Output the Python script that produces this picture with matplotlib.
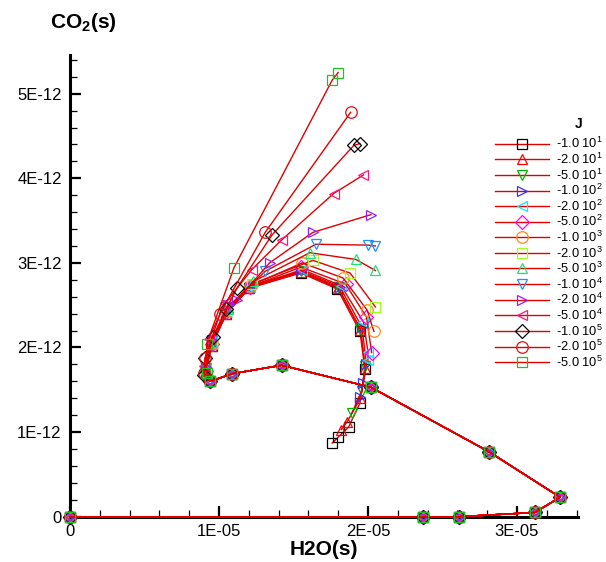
import matplotlib
matplotlib.use("Agg")
import matplotlib.pyplot as plt
from matplotlib.lines import Line2D
from matplotlib.ticker import FixedLocator, MultipleLocator

plt.rcParams['font.family'] = ['Liberation Sans', 'DejaVu Sans']
plt.rcParams['mathtext.fontset'] = 'custom'
plt.rcParams['mathtext.rm'] = 'Liberation Sans'
plt.rcParams['mathtext.bf'] = 'Liberation Sans:bold'

# ---------------- data (x in 1e-5, y in 1e-12) ----------------
j_mant = ["1.0", "2.0", "5.0", "1.0", "2.0", "5.0", "1.0", "2.0", "5.0",
          "1.0", "2.0", "5.0", "1.0", "2.0", "5.0"]
j_exp = [1, 1, 1, 2, 2, 2, 3, 3, 3, 4, 4, 4, 5, 5, 5]

prefix_x = [0.0, 2.37, 2.61, 3.12, 3.29, 2.81, 2.02, 1.42, 1.09, 0.94]
prefix_y = [0.0, 0.0, 0.0, 0.05, 0.23, 0.77, 1.53, 1.79, 1.69, 1.60]

t1_x = [0.91, 0.95, 1.05, 1.20, 1.55, 1.795, 1.946, 1.98, 1.946, 1.87, 1.80, 1.76]
t1_y = [1.70, 2.02, 2.40, 2.70, 2.88, 2.69, 2.19, 1.74, 1.34, 1.06, 0.94, 0.87]
t2_x = [0.91, 0.95, 1.05, 1.20, 1.55, 1.80, 1.95, 1.98, 1.95, 1.86, 1.82]
t2_y = [1.70, 2.02, 2.40, 2.70, 2.89, 2.70, 2.21, 1.76, 1.40, 1.12, 1.03]
t3_x = [0.91, 0.95, 1.05, 1.21, 1.55, 1.80, 1.95, 1.98, 1.96, 1.89]
t3_y = [1.71, 2.03, 2.41, 2.71, 2.90, 2.71, 2.22, 1.78, 1.48, 1.22]
t4_x = [0.91, 0.95, 1.05, 1.21, 1.55, 1.81, 1.96, 1.99, 1.97, 1.946]
t4_y = [1.71, 2.03, 2.41, 2.71, 2.91, 2.72, 2.24, 1.80, 1.58, 1.42]
t5_x = [0.91, 0.95, 1.05, 1.21, 1.56, 1.82, 1.97, 2.00, 2.00]
t5_y = [1.72, 2.04, 2.42, 2.72, 2.92, 2.73, 2.30, 1.95, 1.85]
t6_x = [0.91, 0.95, 1.05, 1.21, 1.55, 1.85, 1.99, 2.025]
t6_y = [1.72, 2.04, 2.42, 2.72, 2.95, 2.75, 2.36, 1.94]
t7_x = [0.91, 0.95, 1.05, 1.21, 1.56, 1.834, 1.995, 2.04]
t7_y = [1.73, 2.05, 2.43, 2.73, 3.00, 2.82, 2.44, 2.19]
t8_x = [0.91, 0.95, 1.05, 1.22, 1.63, 1.88, 2.05]
t8_y = [1.74, 2.06, 2.44, 2.75, 3.03, 2.88, 2.48]
t9_x = [0.91, 0.95, 1.06, 1.23, 1.61, 1.92, 2.05]
t9_y = [1.75, 2.07, 2.46, 2.78, 3.12, 3.04, 2.91]
t10_x = [0.91, 0.95, 1.06, 1.31, 1.65, 2.00, 2.05]
t10_y = [1.76, 2.08, 2.48, 2.90, 3.22, 3.21, 3.20]
t11_x = [0.91, 0.95, 1.06, 1.12, 1.34, 1.63, 2.02]
t11_y = [1.77, 2.09, 2.50, 2.56, 3.00, 3.36, 3.57]
t12_x = [0.90, 0.93, 1.04, 1.22, 1.42, 1.77, 1.97]
t12_y = [1.78, 2.10, 2.52, 2.92, 3.27, 3.82, 4.04]
t13_x = [0.90, 0.906, 0.96, 1.05, 1.12, 1.356, 1.906, 1.946]
t13_y = [1.67, 1.87, 2.12, 2.46, 2.70, 3.33, 4.39, 4.41]
t14_x = [0.90, 0.906, 1.007, 1.31, 1.884]
t14_y = [1.70, 1.87, 2.40, 3.36, 4.78]
t15_x = [0.917, 0.917, 1.10, 1.76, 1.80]
t15_y = [1.70, 2.04, 2.94, 5.16, 5.25]

tails_x = [t1_x, t2_x, t3_x, t4_x, t5_x, t6_x, t7_x, t8_x, t9_x, t10_x,
           t11_x, t12_x, t13_x, t14_x, t15_x]
tails_y = [t1_y, t2_y, t3_y, t4_y, t5_y, t6_y, t7_y, t8_y, t9_y, t10_y,
           t11_y, t12_y, t13_y, t14_y, t15_y]

markers = ['s', '^', 'v', '>', '<', 'D', 'o', 's', '^', 'v', '>', '<', 'D', 'o', 's']
colors = ['#000000', '#FF0000', '#00B400', '#3535FF', '#00F0FF', '#FF00FF',
          '#FF8C1A', '#A0FF20', '#20E078', '#2090FF', '#9020FF', '#FF1480',
          '#000000', '#DD1010', '#22C022']
line_color = '#E00000'

x_ticks = [0, 1e-5, 2e-5, 3e-5]
x_ticklabels = ["0", "1E-05", "2E-05", "3E-05"]
y_ticks = [0, 1e-12, 2e-12, 3e-12, 4e-12, 5e-12]
y_ticklabels = ["0", "1E-12", "2E-12", "3E-12", "4E-12", "5E-12"]

# ---------------- figure ----------------
W, H = 606, 562
fig = plt.figure(figsize=(W / 100, H / 100), dpi=100)
ax = fig.add_axes([70 / W, 1 - 516.7 / H, (578 - 70) / W, (516.7 - 55) / H])

ms = {'s': 7.3, '^': 7.8, 'v': 7.8, '>': 7.8, '<': 7.8, 'D': 6.8, 'o': 8.3}

for i in range(15):
    xs = [v * 1e-5 for v in prefix_x + tails_x[i]]
    ys = [v * 1e-12 for v in prefix_y + tails_y[i]]
    ax.plot(xs, ys, color=line_color, lw=1.0, marker=markers[i],
            markersize=ms[markers[i]], mfc='none', mec=colors[i], mew=0.9,
            clip_on=False, zorder=3)

ax.set_xlim(0, 3.41e-5)
ax.set_ylim(0, 5.457e-12)

for s in ['top', 'right']:
    ax.spines[s].set_visible(False)
for s in ['left', 'bottom']:
    ax.spines[s].set_linewidth(2.2)

ax.xaxis.set_major_locator(FixedLocator(x_ticks))
ax.xaxis.set_minor_locator(MultipleLocator(0.2e-5))
ax.yaxis.set_major_locator(FixedLocator(y_ticks))
ax.yaxis.set_minor_locator(MultipleLocator(0.2e-12))
ax.set_xticklabels(x_ticklabels)
ax.set_yticklabels(y_ticklabels)
ax.tick_params(which='major', direction='in', length=8, width=1.6, labelsize=12)
ax.tick_params(which='minor', direction='in', length=5, width=0.9)
ax.tick_params(axis='x', which='major', pad=5)
ax.tick_params(axis='y', which='major', pad=6)

ax.set_xlabel("H2O(s)", fontsize=15, fontweight='bold', labelpad=1)
fig.text(83 / W, 1 - 22 / H, r"CO$_\mathbf{2}$(s)", fontsize=15,
         fontweight='bold', ha='center', va='center')

# ---------------- legend (manual) ----------------
fig.text(579 / W, 1 - 124 / H, "J", fontsize=10, fontweight='bold',
         ha='center', va='center')
for i in range(15):
    yp = 143.7 + i * 15.6
    yf = 1 - yp / H
    fig.add_artist(Line2D([495 / W, 549 / W], [yf, yf], color=line_color,
                          lw=1.0, transform=fig.transFigure))
    fig.add_artist(Line2D([522 / W], [yf], marker=markers[i],
                          markersize=ms[markers[i]], mfc='none',
                          mec=colors[i], mew=0.9, ls='none',
                          transform=fig.transFigure))
    fig.text(556 / W, yf, "-" + j_mant[i] + " 10$^{" + str(j_exp[i]) + "}$",
             fontsize=9.3, ha='left', va='center')

fig.savefig("out.png", dpi=100)
